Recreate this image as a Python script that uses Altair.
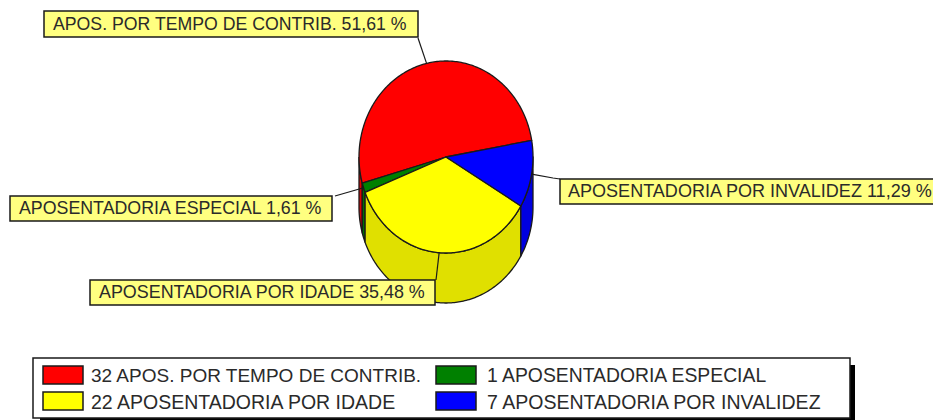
import altair as alt
import numpy as np
import pandas as pd

# ---- chart values
categories = ["APOS. POR TEMPO DE CONTRIB.", "APOSENTADORIA ESPECIAL", "APOSENTADORIA POR IDADE", "APOSENTADORIA POR INVALIDEZ"]
counts = [32, 1, 22, 7]
percent_labels = ["51,61 %", "1,61 %", "35,48 %", "11,29 %"]
colors = ["#FF0000", "#008000", "#FFFF00", "#0000FF"]
wall_colors = ["#E00000", "#007000", "#E0E000", "#0000E0"]

# ---- layout (page pixels)
CX, CY, RX, RY, DEPTH, START = 446, 157, 87, 96, 50, 10
FONT = "Liberation Sans"
INK = "#2a2a2a"
LINE = "#1a1a1a"
xs = alt.Scale(domain=[8, 933], nice=False, zero=False)
ys = alt.Scale(domain=[420, 8], nice=False, zero=False)
X = lambda f="x": alt.X(f"{f}:Q", scale=xs, axis=None)
Y = lambda f="y": alt.Y(f"{f}:Q", scale=ys, axis=None)


def rim(a0, a1, drop=0):
    t = np.radians(np.linspace(a0, a1, max(2, int(abs(a1 - a0)) + 2)))
    return CX + RX * np.cos(t), CY - RY * np.sin(t) + drop


def poly(px, py, fill, sw=1.3):
    df = pd.DataFrame({"x": np.r_[px, px[0]], "y": np.r_[py, py[0]]})
    df["i"] = range(len(df))
    return alt.Chart(df).mark_line(fill=fill, stroke=LINE, strokeWidth=sw, strokeJoin="round").encode(
        x=X(), y=Y(), order="i:Q")


def segment(pts, color=LINE, sw=1.2):
    df = pd.DataFrame(pts, columns=["x", "y"])
    df["i"] = range(len(df))
    return alt.Chart(df).mark_line(stroke=color, strokeWidth=sw).encode(x=X(), y=Y(), order="i:Q")


def box(x0, y0, x1, y1, fill, sw=1.5, stroke=LINE):
    df = pd.DataFrame([{"x": x0, "x2": x1, "y": y0, "y2": y1}])
    return alt.Chart(df).mark_rect(fill=fill, stroke=stroke, strokeWidth=sw).encode(
        x=X(), x2="x2:Q", y=Y(), y2="y2:Q")


def text(x, y, s, size):
    df = pd.DataFrame([{"x": x, "y": y, "t": s}])
    return alt.Chart(df).mark_text(align="left", baseline="alphabetic", font=FONT, fontSize=size, color=INK).encode(
        x=X(), y=Y(), text="t:N")


# angles from the counts
total = sum(counts)
edges = START + np.r_[0, np.cumsum(counts)] * 360.0 / total
layers = []

# side walls (front half of the drum only)
for i in range(4):
    a0, a1 = max(edges[i], 180), min(edges[i + 1], 360)
    if a1 > a0:
        tx, ty = rim(a0, a1)
        bx, by = rim(a1, a0, DEPTH)
        layers.append(poly(np.r_[tx, bx], np.r_[ty, by], wall_colors[i]))

# top faces
for i in range(4):
    tx, ty = rim(edges[i], edges[i + 1])
    layers.append(poly(np.r_[CX, tx], np.r_[CY, ty], colors[i]))

# leaders: from the middle of each slice's rim to its label box
mids = [(edges[i] + edges[i + 1]) / 2 for i in range(4)]
anchor = [rim(m, m + 0.01) for m in mids]
ends = [[(418, 38)], [(335, 196)], [(436, 280)], [(553, 178), (560, 179)]]
for i in range(4):
    layers.append(segment([(anchor[i][0][0], anchor[i][1][0])] + ends[i]))

# value labels
label_boxes = [(44, 11, 418, 37), (10, 196, 332, 221), (90, 280, 435, 305), (560, 179, 945, 204)]
label_text = [(53, 30), (19, 214), (99, 298), (568, 197)]
label_sizes = [17.7, 17.8, 17.9, 18.05]
for i in range(4):
    layers.append(box(*label_boxes[i], "#FFFF80"))
    layers.append(text(*label_text[i], f"{categories[i]} {percent_labels[i]}", label_sizes[i]))

# legend
layers.append(box(40, 365, 855, 420, "#000000", sw=0))
layers.append(box(33, 358, 850, 418, "#FFFFFF"))
legend_swatch = [(43, 366), (436, 366), (43, 392), (436, 392)]
legend_order = [0, 1, 2, 3]
legend_text = [(91, 382), (487, 382), (91, 408.5), (487, 408.5)]
legend_sizes = [19.0, 19.35, 19.5, 19.55]
for k, i in enumerate(legend_order):
    sx, sy = legend_swatch[k]
    layers.append(box(sx, sy, sx + 40, sy + 18, colors[i]))
    layers.append(text(*legend_text[k], f"{counts[i]} {categories[i]}", legend_sizes[k]))

chart = alt.layer(*layers).properties(
    width=925, height=412, padding=0, autosize=alt.AutoSizeParams(type="none"), background="white"
).configure_view(strokeWidth=0)

chart.save("out.html", embed_options={"renderer": "svg", "actions": False})
